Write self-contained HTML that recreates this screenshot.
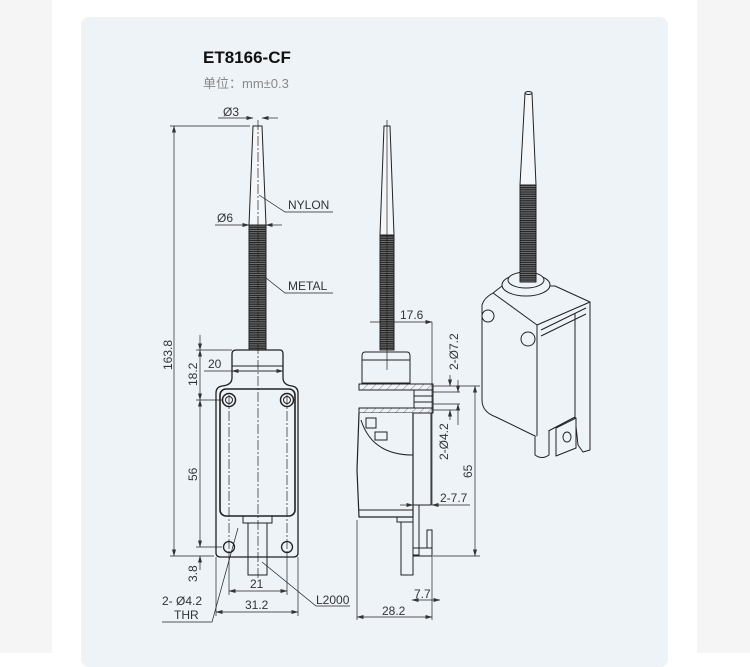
<!DOCTYPE html>
<html><head><meta charset="utf-8"><style>
html,body{margin:0;padding:0;width:750px;height:653px;overflow:hidden;background:#fff}
.l{position:absolute;top:0;left:0;width:52px;height:653px;background:#f5f5f5}
.r{position:absolute;top:0;left:697px;width:53px;height:653px;background:#f5f5f5}
.card{position:absolute;left:81px;top:17px;width:587px;height:650px;background:#eef3f8;border-radius:8px}
svg{position:absolute;left:0;top:0}
text{font-family:"Liberation Sans",sans-serif;fill:#333;font-size:12px}
</style></head><body>
<div class="l"></div><div class="r"></div><div class="card"></div>
<svg width="750" height="653" viewBox="0 0 750 653">
<defs>
<pattern id="th" width="4" height="2.2" patternUnits="userSpaceOnUse"><rect width="4" height="2.2" fill="#777"/><rect width="4" height="1.2" fill="#222"/></pattern>
<pattern id="hat" width="8" height="8" patternUnits="userSpaceOnUse" patternTransform="skewX(-45)"><rect width="8" height="8" fill="#eef3f8"/><line x1="0" y1="0" x2="0" y2="8" stroke="#555" stroke-width="1"/></pattern>
<marker id="a" markerWidth="7" markerHeight="4" refX="6.5" refY="2" orient="auto" markerUnits="userSpaceOnUse"><path d="M0,0L7,2L0,4z" fill="#333"/></marker>
<marker id="b" markerWidth="7" markerHeight="4" refX="0.5" refY="2" orient="auto" markerUnits="userSpaceOnUse"><path d="M7,0L0,2L7,4z" fill="#333"/></marker>
</defs>
<text x="203" y="63" style="font-size:17px;font-weight:bold;fill:#111">ET8166-CF</text>
<text x="203" y="88" style="font-size:13px;fill:#888;font-family:'Liberation Sans','Noto Sans CJK SC',sans-serif">单位：mm±0.3</text>

<g stroke="#222" stroke-width="1" fill="none">
<path d="M253,126 L262,126 L266,225 L249,225 Z" fill="#f4f7fa"/>
<rect x="249" y="225" width="17" height="125" fill="url(#th)"/>
<path d="M236,350 H280 Q283,350 283,354 V378 Q283,385 292,386 Q298,387 298,393 V553 Q298,557 293,557 H221 Q216,557 216,553 V393 Q216,387 222,386 Q232,385 232,378 V354 Q232,350 236,350 Z" fill="#eef3f8" stroke-width="1.3"/>
<line x1="232" y1="366" x2="283" y2="366"/>
<rect x="220" y="389" width="75" height="127" rx="6" stroke-width="1.6"/>
<circle cx="229" cy="400" r="6.5" stroke-width="1.5"/><circle cx="229" cy="400" r="3.5"/>
<circle cx="287" cy="400" r="6.5" stroke-width="1.5"/><circle cx="287" cy="400" r="3.5"/>
<circle cx="229" cy="547" r="5.5" stroke-width="1.3"/>
<circle cx="287" cy="547" r="5.5" stroke-width="1.3"/>
<rect x="243" y="516" width="29" height="7"/>
<rect x="248" y="523" width="19" height="52"/>
<line x1="258" y1="120" x2="258" y2="580" stroke-dasharray="10,2,2,2" stroke-width="0.7"/>
<line x1="229" y1="395" x2="229" y2="552" stroke-dasharray="10,2,2,2" stroke-width="0.7"/>
<line x1="287" y1="395" x2="287" y2="552" stroke-dasharray="10,2,2,2" stroke-width="0.7"/>
<g stroke-width="0.7">
<line x1="170" y1="126" x2="250" y2="126"/><line x1="170" y1="556" x2="214" y2="556"/>
<line x1="174" y1="126" x2="174" y2="556" marker-start="url(#b)" marker-end="url(#a)"/>
<line x1="196" y1="350" x2="232" y2="350"/><line x1="196" y1="400" x2="222" y2="400"/><line x1="196" y1="547" x2="222" y2="547"/>
<line x1="200" y1="335" x2="200" y2="350" marker-end="url(#a)"/>
<line x1="200" y1="350" x2="200" y2="400" marker-start="url(#b)" marker-end="url(#a)"/>
<line x1="200" y1="400" x2="200" y2="547" marker-start="url(#b)" marker-end="url(#a)"/>
<line x1="200" y1="556" x2="200" y2="570" marker-start="url(#b)"/>
<line x1="204" y1="371" x2="283" y2="371"/>
<line x1="232" y1="371" x2="283" y2="371" marker-start="url(#b)" marker-end="url(#a)"/>
<line x1="229" y1="553" x2="229" y2="595"/><line x1="287" y1="553" x2="287" y2="595"/>
<line x1="229" y1="591" x2="287" y2="591" marker-start="url(#b)" marker-end="url(#a)"/>
<line x1="216" y1="557" x2="216" y2="616"/><line x1="298" y1="557" x2="298" y2="616"/>
<line x1="216" y1="612" x2="298" y2="612" marker-start="url(#b)" marker-end="url(#a)"/>
<line x1="218" y1="118" x2="253" y2="118" marker-end="url(#a)"/><line x1="262" y1="118" x2="278" y2="118" marker-start="url(#b)"/>
<line x1="215" y1="225" x2="249" y2="225" marker-end="url(#a)"/><line x1="266" y1="225" x2="282" y2="225" marker-start="url(#b)"/>
<polyline points="259,195 285,212 333,212"/>
<polyline points="266,278 285,293 333,293"/>
<polyline points="262,562 316,606 350,606"/>
<polyline points="238,528 212,622 162,622"/>
</g>
</g>
<text x="0" y="0" transform="translate(172,370) rotate(-90)">163.8</text>
<text x="0" y="0" transform="translate(197,386) rotate(-90)">18.2</text>
<text x="0" y="0" transform="translate(197,481) rotate(-90)">56</text>
<text x="0" y="0" transform="translate(197,582) rotate(-90)">3.8</text>
<text x="208" y="368">20</text>
<text x="250" y="588">21</text>
<text x="245" y="609">31.2</text>
<text x="162" y="605">2- Ø4.2</text>
<text x="174" y="619">THR</text>
<text x="316" y="604">L2000</text>
<text x="223" y="116">Ø3</text>
<text x="217" y="222">Ø6</text>
<text x="288" y="209">NYLON</text>
<text x="288" y="290">METAL</text>

<g stroke="#222" stroke-width="1" fill="none">
<path d="M384,126 L390,126 L394,235 L380,235 Z" fill="#f4f7fa"/>
<rect x="380" y="235" width="14" height="115" fill="url(#th)"/>
<path d="M365,352 H407 Q410,352 410,356 V383 H362 V356 Q362,352 365,352 Z" fill="#eef3f8"/>
<line x1="362" y1="360" x2="410" y2="360"/>
<rect x="359" y="384" width="74" height="6" fill="url(#hat)"/>
<rect x="414" y="390" width="19" height="18"/>
<line x1="414" y1="396" x2="433" y2="396"/><line x1="414" y1="402" x2="433" y2="402"/>
<rect x="359" y="408" width="74" height="5" fill="url(#hat)"/>
<path d="M359,413 L357,470 L359,517 H413 V413" fill="#eef3f8" stroke-width="1.2"/>
<line x1="413" y1="413" x2="413" y2="517"/>
<path d="M361,420 Q372,455 413,455" />
<rect x="366" y="418" width="10" height="10"/><rect x="375" y="432" width="12" height="8"/>
<line x1="359" y1="510" x2="413" y2="510"/>
<rect x="413" y="413" width="18" height="92"/>
<rect x="413" y="505" width="6" height="50"/>
<rect x="397" y="517" width="16" height="5"/>
<rect x="401" y="522" width="12" height="53"/>
<rect x="413" y="548" width="19" height="8"/>
<rect x="427" y="530" width="5" height="18"/>
<line x1="387" y1="120" x2="387" y2="370" stroke-width="0.7"/>
<g stroke-width="0.7">
<line x1="370" y1="322" x2="432" y2="322" marker-end="url(#a)"/>
<line x1="432" y1="322" x2="432" y2="505"/>
<line x1="433" y1="386" x2="480" y2="386"/><line x1="433" y1="410" x2="460" y2="410"/><line x1="433" y1="556" x2="480" y2="556"/>
<line x1="433" y1="392" x2="460" y2="392"/><line x1="433" y1="404" x2="460" y2="404"/>
<line x1="450" y1="375" x2="450" y2="386" marker-end="url(#a)"/><line x1="450" y1="410" x2="450" y2="420" marker-start="url(#b)"/>
<line x1="458" y1="380" x2="458" y2="392" marker-end="url(#a)"/><line x1="458" y1="404" x2="458" y2="425" marker-start="url(#b)"/>
<line x1="475" y1="386" x2="475" y2="556" marker-start="url(#b)" marker-end="url(#a)"/>
<line x1="400" y1="505" x2="413" y2="505" marker-end="url(#a)"/><line x1="432" y1="505" x2="470" y2="505" marker-start="url(#b)"/>
<line x1="432" y1="556" x2="432" y2="620"/><line x1="357" y1="520" x2="357" y2="620"/>
<line x1="412" y1="600" x2="440" y2="600" marker-start="url(#b)" marker-end="url(#a)"/>
<line x1="357" y1="617" x2="432" y2="617" marker-start="url(#b)" marker-end="url(#a)"/>
</g>
</g>
<text x="400" y="319">17.6</text>
<text x="0" y="0" transform="translate(458,370) rotate(-90)">2-Ø7.2</text>
<text x="0" y="0" transform="translate(448,460) rotate(-90)">2-Ø4.2</text>
<text x="0" y="0" transform="translate(472,478) rotate(-90)">65</text>
<text x="440" y="502">2-7.7</text>
<text x="414" y="598">7.7</text>
<text x="382" y="615">28.2</text>

<g stroke="#222" stroke-width="1" fill="#eef3f8" stroke-linejoin="round">
<path d="M525,93 L532,93 L536,185 L520,185 Z" fill="#f4f7fa"/>
<ellipse cx="528.5" cy="93" rx="3.5" ry="1.5"/>
<path d="M482,305 Q484,298 493,293 L502,286 L555,286 L590,302 L590,450 L583,452 L578,445 L575,417 L537,437 L496,417 Q482,412 482,400 Z"/>
<path d="M493,293 L537,325 L590,302"/>
<line x1="537" y1="325" x2="537" y2="437"/>
<path d="M541,330 L586,308 M541,336 L586,314"/>
<line x1="575" y1="313" x2="575" y2="417"/>
<ellipse cx="526" cy="285" rx="24" ry="11"/>
<ellipse cx="526" cy="280" rx="18" ry="8"/>
<rect x="520" y="185" width="16" height="97" fill="url(#th)"/>
<circle cx="488" cy="316" r="6"/>
<circle cx="528" cy="339" r="7"/>
<path d="M535,437 V455 Q542,460 549,455 V430"/>
<path d="M556,428 L576,418 V448 L556,456 Z"/>
<ellipse cx="567" cy="437" rx="4" ry="5"/>
</g>
</svg>
</body></html>
